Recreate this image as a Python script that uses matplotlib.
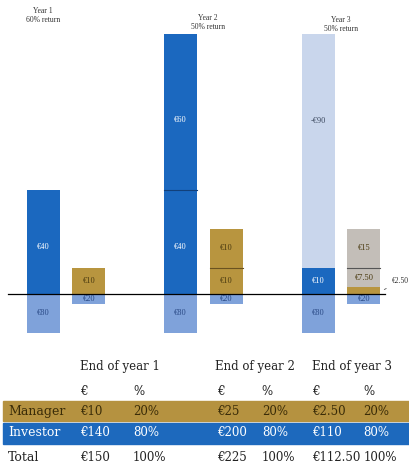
import matplotlib
matplotlib.use("Agg")
import matplotlib.pyplot as plt
from matplotlib.patches import Rectangle
import numpy as np

plt.rcParams["font.family"] = ["Liberation Serif", "DejaVu Serif"]

# ---- chart data (euro values per bar segment) ----
years = ["Year 1\n60% return", "Year 2\n50% return", "Year 3\n50% return"]

# investor bar: capital below the line, gains stacked above
inv_capital = [80, 80, 80]
inv_gain_lo = [40, 40, 10]
inv_gain_hi = [0, 60, 90]
inv_lo_labels = ["€40", "€40", "€10"]
inv_hi_labels = ["", "€60", "-€90"]

# manager bar
mgr_capital = [20, 20, 20]
mgr_gold_lo = [10, 10, 2.5]
mgr_upper_1 = [0, 15, 7.5]
mgr_upper_2 = [0, 0, 15]
mgr_lo_labels = ["€10", "€10", ""]
mgr_up1_labels = ["", "€10", "€7.50"]
mgr_up2_labels = ["", "", "€15"]

# ---- table data ----
tbl_headers = ["End of year 1", "End of year 2", "End of year 3"]
tbl_rows = ["Manager", "Investor", "Total"]
tbl_euro = [["€10", "€25", "€2.50"],
            ["€140", "€200", "€110"],
            ["€150", "€225", "€112.50"]]
tbl_pct = [["20%", "20%", "20%"],
           ["80%", "80%", "80%"],
           ["100%", "100%", "100%"]]

DARK = "#1b68bf"
MID = "#7fa2da"
PALE = "#c9d6ec"
GOLD = "#b8953f"
GREY = "#c3beb8"

K = 0.1875  # compression below the baseline


def fwd(v):
    v = np.asarray(v, dtype=float)
    return np.where(v >= 0, v, v * K)


def inv(v):
    v = np.asarray(v, dtype=float)
    return np.where(v >= 0, v, v / K)


fig = plt.figure(figsize=(4.09, 4.65), dpi=100)
ax = fig.add_axes([0, 0.2776, 1, 0.6716])
ax.set_yscale("function", functions=(fwd, inv))
ax.set_xlim(-0.48, 2.4945)
ax.set_ylim(-86, 104)
ax.axis("off")

x = np.arange(len(years))
w = 0.24
xb = x - 0.167
xs = x + 0.167


def seg(xp, bottom, h, color, label, tcolor, ty=None, div=False, divc=None):
    if h == 0:
        return
    ax.bar(xp, h, w, bottom=bottom, color=color, linewidth=0, zorder=2)
    if div:
        ax.plot([xp - w / 2, xp + w / 2], [bottom, bottom], color=divc, lw=0.8, zorder=3)
    if label:
        yy = bottom + h / 2 if ty is None else ty
        ax.text(xp, yy, label, ha="center", va="center", fontsize=6, color=tcolor, zorder=4)


hi_frac = [0.5, 0.45, 0.63]
title_x = [-0.167, 1.03, 2.0]   # data x of the year captions
title_y = [0.985, 0.97, 0.965]  # figure fraction, captions sit near the top

for i in range(len(years)):
    # investor
    seg(xb[i], 0, -inv_capital[i], MID, f"€{inv_capital[i]}", "#2a4a86")
    seg(xb[i], 0, inv_gain_lo[i], DARK, inv_lo_labels[i], "white",
        ty=inv_gain_lo[i] * 0.45 if inv_gain_lo[i] > 20 else None)
    hi_col = PALE if i == 2 else DARK
    hi_txt = "#3d4a60" if i == 2 else "white"
    seg(xb[i], inv_gain_lo[i], inv_gain_hi[i], hi_col, inv_hi_labels[i], hi_txt,
        ty=inv_gain_lo[i] + inv_gain_hi[i] * hi_frac[i], div=(i == 1), divc="#12407a")
    # manager
    seg(xs[i], 0, -mgr_capital[i], MID, f"€{mgr_capital[i]}", "#2a4a86")
    seg(xs[i], 0, mgr_gold_lo[i], GOLD, mgr_lo_labels[i], "#4a3a10")
    up1_col = GOLD if i == 1 else GREY
    seg(xs[i], mgr_gold_lo[i], mgr_upper_1[i], up1_col, mgr_up1_labels[i], "#4a3a10",
        div=(i == 1), divc="#6a5220")
    seg(xs[i], mgr_gold_lo[i] + mgr_upper_1[i], mgr_upper_2[i], GREY, mgr_up2_labels[i],
        "#4a3a10", div=True, divc="#555555")

    tx = ax.transData.transform((title_x[i], 0))[0] / fig.bbox.width
    fig.text(tx, title_y[i], years[i], ha="center", va="top", fontsize=5.5,
             color="#333333", linespacing=1.2)

# baseline
ax.plot([-0.42, 2.32], [0, 0], color="black", lw=0.9, zorder=5)

# €2.50 callout on the last manager bar
ax.annotate("€2.50", xy=(xs[2] + w / 2 + 0.01, 1.2), xytext=(xs[2] + w / 2 + 0.08, 5),
            fontsize=5.5, color="#333333", va="center",
            arrowprops=dict(arrowstyle="-", linestyle="--", color="#555555", lw=0.6))

# ---- table ----
fig.patches.append(Rectangle((0.007, 0.0946), 0.993, 0.043, transform=fig.transFigure,
                             color="#b59240", zorder=0))
fig.patches.append(Rectangle((0.007, 0.0452), 0.993, 0.045, transform=fig.transFigure,
                             color="#1d69bd", zorder=0))

TF = ["DejaVu Serif"]
euro_x = [0.196, 0.530, 0.763]
pct_x = [0.325, 0.640, 0.888]
head_x = [0.196, 0.526, 0.763]
row_y = [0.116, 0.069, 0.017]
row_col = ["#3a2c08", "white", "#222222"]

for j, h in enumerate(tbl_headers):
    fig.text(head_x[j], 0.2108, h, fontsize=8.5, va="center", color="#222222", family=TF)
    fig.text(euro_x[j], 0.157, "€", fontsize=8.5, va="center", color="#222222", family=TF)
    fig.text(pct_x[j], 0.157, "%", fontsize=8.5, va="center", color="#222222", family=TF)

for r, name in enumerate(tbl_rows):
    fig.text(0.02, row_y[r], name, fontsize=9, va="center", color=row_col[r], family=TF)
    for j in range(3):
        fig.text(euro_x[j], row_y[r], tbl_euro[r][j], fontsize=8.5, va="center",
                 color=row_col[r], family=TF)
        fig.text(pct_x[j], row_y[r], tbl_pct[r][j], fontsize=8.5, va="center",
                 color=row_col[r], family=TF)

fig.savefig("out.png", dpi=100)
